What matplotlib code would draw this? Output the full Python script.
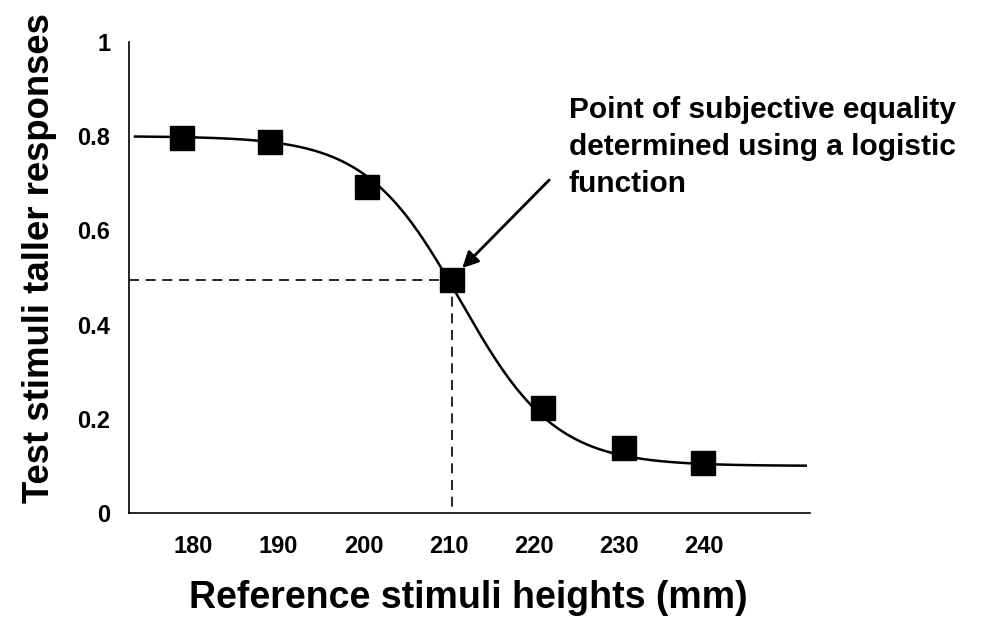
import numpy as np
import matplotlib.pyplot as plt

plt.rcParams["font.family"] = ["Liberation Sans", "DejaVu Sans"]
plt.rcParams["font.weight"] = "bold"

# Observed proportions at each reference height
heights = [178.7, 189.0, 200.4, 210.4, 221.1, 230.6, 239.9]
responses = [0.796, 0.788, 0.692, 0.495, 0.223, 0.138, 0.106]
tick_values = [180, 190, 200, 210, 220, 230, 240]
y_ticks = [0, 0.2, 0.4, 0.6, 0.8, 1]
y_tick_labels = ["0", "0.2", "0.4", "0.6", "0.8", "1"]

# Fitted logistic: lower + (upper - lower) / (1 + exp((x - x0) / s))
upper, lower = 0.8, 0.1
x0, s = 211.4, 5.56
pse_x, pse_y = 210.4, 0.495

fig = plt.figure(figsize=(9.91, 6.21), dpi=100)
ax = fig.add_axes([129 / 991, 108 / 621, 681 / 991, 471 / 621])

xs = np.linspace(173.2, 251.9, 400)
curve = lower + (upper - lower) / (1 + np.exp((xs - x0) / s))
ax.plot(xs, curve, color="black", lw=1.8, zorder=2)

ax.plot(heights, responses, "s", color="black", ms=17, zorder=3)

# PSE guide lines
ax.plot([172.5, pse_x], [pse_y, pse_y], color="black", lw=1.2,
        dashes=(6, 4), zorder=1)
ax.plot([pse_x, pse_x], [pse_y, 0], color="black", lw=1.2,
        dashes=(6, 4), zorder=1)

ax.annotate("", xy=(211.6, 0.52), xytext=(221.8, 0.707),
            arrowprops=dict(arrowstyle="-|>", color="black", lw=2,
                            mutation_scale=24, shrinkA=0, shrinkB=0))
ax.text(224.1, 0.777, "Point of subjective equality\ndetermined using a logistic\nfunction",
        fontsize=21.5, fontweight="bold", ha="left", va="center",
        linespacing=1.41)

ax.set_xlim(172.5, 252.4)
ax.set_ylim(0, 1)
ax.set_xticks(tick_values)
ax.set_xticklabels([str(t) for t in tick_values])
ax.set_yticks(y_ticks)
ax.set_yticklabels(y_tick_labels)
ax.tick_params(axis="both", length=0, labelsize=17)
ax.tick_params(axis="x", pad=16)
ax.tick_params(axis="y", pad=13.5)
for side in ["top", "right"]:
    ax.spines[side].set_visible(False)
for side in ["left", "bottom"]:
    ax.spines[side].set_linewidth(1.2)

fig.text(468 / 991, 1 - 598 / 621, "Reference stimuli heights (mm)",
         fontsize=27, fontweight="bold", ha="center", va="center")
fig.text(40 / 991, 1 - 258 / 621, "Test stimuli taller responses",
         fontsize=26.3, fontweight="bold", ha="center", va="center",
         rotation=90)

fig.savefig("out.png", dpi=100)
